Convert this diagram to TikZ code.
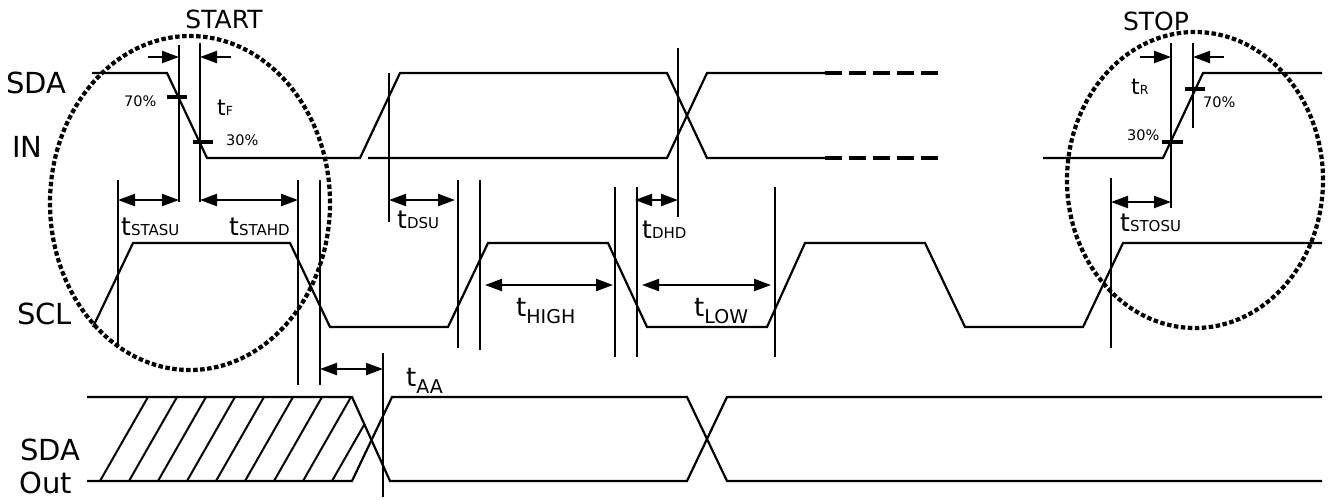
\documentclass[tikz,border=0pt]{standalone}
\usepackage{fontspec}
\setmainfont{DejaVu Sans}
\usetikzlibrary{arrows.meta}
\newcommand\mytsm[1]{{\fontsize{25}{25}\selectfont t}{\fontsize{15}{15}\selectfont #1}}
\newcommand\mytsmall[1]{{\fontsize{22}{22}\selectfont t}{\fontsize{12.5}{12.5}\selectfont #1}}
\newcommand\mytsub[1]{{\fontsize{26}{26}\selectfont t}\raisebox{-7pt}{\fontsize{19}{19}\selectfont #1}}
\tikzset{
  wave/.style={line width=2.2pt},
  vline/.style={line width=2.2pt},
  tick/.style={line width=3.2pt},
  hatch/.style={line width=2pt},
  dashwave/.style={line width=4.2pt, dash pattern=on 16.5pt off 7.5pt},
  circ/.style={line width=4.2pt, dash pattern=on 4.5pt off 2.5pt},
  dim/.style={line width=2.2pt, {Triangle[length=17pt,width=12pt]}-{Triangle[length=17pt,width=12pt]}},
  rdim/.style={line width=2.2pt, -{Triangle[length=17pt,width=12pt]}},
  lbl/.style={inner sep=0, anchor=base west, font=\fontsize{29}{29}\selectfont},
  pct/.style={inner sep=0, anchor=base west, font=\fontsize{14.5}{14.5}\selectfont},
  tl/.style={inner sep=0, anchor=base west},
  ttl/.style={inner sep=0, anchor=base, font=\fontsize{25}{25}\selectfont}
}
\begin{document}
\begin{tikzpicture}[x=1pt, y=-1pt]
\useasboundingbox (0,0) rectangle (1330,499);

% ---- labels
\node[lbl] (sda) at (6,93) {SDA};
\node[lbl] (in) at (12,157) {IN};
\node[lbl] (scl) at (17,324) {SCL};
\node[lbl] (sdao) at (20,460) {SDA};
\node[lbl] (out) at (19,493) {Out};
\node[ttl] (start) at (224,28) {START};
\node[ttl] (stop) at (1156,30) {STOP};

% ---- SDA in
\draw[wave] (92,73) -- (167,73) -- (207,158) -- (360,158) -- (400,73) -- (667,73) -- (707,158) -- (825,158);
\draw[wave] (368,158) -- (667,158) -- (707,73) -- (825,73);
\draw[dashwave] (825,73) -- (938,73);
\draw[dashwave] (825,158) -- (938,158);
\draw[wave] (1043,158) -- (1163,158) -- (1203,73) -- (1322,73);

% ---- SCL
\draw[wave] (93,327) -- (133,243) -- (290,243) -- (330,327) -- (448,327) -- (488,243) -- (608,243) -- (647,327) -- (767,327) -- (805,243) -- (925,243) -- (965,327) -- (1083,327) -- (1123,243) -- (1322,243);

% ---- SDA out
\draw[wave] (87,397) -- (352,397) -- (390,481) -- (687,481) -- (727,397) -- (1322,397);
\draw[wave] (87,481) -- (352,481) -- (392,397) -- (687,397) -- (727,481) -- (1322,481);
\begin{scope}
  \clip (0,397) -- (352,397) -- (371.6,440.3) -- (352,481) -- (0,481) -- cycle;
  \foreach \i in {0,...,8} \draw[hatch] ({100+29*\i},481) -- ({148+29*\i},397);
\end{scope}

% ---- vertical reference lines
\draw[vline] (179,45) -- (179,202);
\draw[vline] (200,43) -- (200,202);
\draw[vline] (389,73) -- (389,222);
\draw[vline] (678,48) -- (678,217);
\draw[vline] (118,180) -- (118,347);
\draw[vline] (298,180) -- (298,385);
\draw[vline] (320,180) -- (320,385);
\draw[vline] (458,180) -- (458,348);
\draw[vline] (480,180) -- (480,350);
\draw[vline] (615,187) -- (615,357);
\draw[vline] (637,187) -- (637,357);
\draw[vline] (775,187) -- (775,357);
\draw[vline] (1171,43) -- (1171,208);
\draw[vline] (1193,43) -- (1193,128);
\draw[vline] (1111,178) -- (1111,348);
\draw[vline] (383,353) -- (383,497);

% ---- ticks
\draw[tick] (167,97) -- (187,97);
\draw[tick] (193,142) -- (213,142);
\draw[tick] (1185,89) -- (1205,89);
\draw[tick] (1162,142) -- (1183,142);
\node[pct] (p70a) at (124,106) {70\%};
\node[pct] (p30a) at (226,145) {30\%};
\node[pct] (p70b) at (1203,107) {70\%};
\node[pct] (p30b) at (1127,140) {30\%};

% ---- dimension arrows
\coordinate (fa) at (148,57); \coordinate (fb) at (179,57);
\coordinate (fc) at (231,57); \coordinate (fd) at (200,57);
\draw[rdim] (fa) -- (fb);
\draw[rdim] (fc) -- (fd);
\coordinate (ra) at (1140,57); \coordinate (rb) at (1171,57);
\coordinate (rc) at (1224,57); \coordinate (rd) at (1193,57);
\draw[rdim] (ra) -- (rb);
\draw[rdim] (rc) -- (rd);
\coordinate (su1) at (118,200); \coordinate (su2) at (179,200);
\draw[dim] (su1) -- (su2);
\coordinate (hd1) at (200,200); \coordinate (hd2) at (298,200);
\draw[dim] (hd1) -- (hd2);
\coordinate (ds1) at (389,200); \coordinate (ds2) at (455,200);
\draw[dim] (ds1) -- (ds2);
\coordinate (dh1) at (635,200); \coordinate (dh2) at (678,200);
\draw[dim] (dh1) -- (dh2);
\coordinate (hi1) at (485,285); \coordinate (hi2) at (613,285);
\draw[dim] (hi1) -- (hi2);
\coordinate (lo1) at (642,285); \coordinate (lo2) at (771,285);
\draw[dim] (lo1) -- (lo2);
\coordinate (aa1) at (320,369); \coordinate (aa2) at (383,369);
\draw[dim] (aa1) -- (aa2);
\coordinate (so1) at (1111,202); \coordinate (so2) at (1171,202);
\draw[dim] (so1) -- (so2);

% ---- timing labels
\node[tl] (tf) at (217,115) {\mytsmall{F}};
\node[tl] (tr) at (1131,94) {\mytsmall{R}};
\node[tl] (tstasu) at (121,235) {\mytsm{STASU}};
\node[tl] (tstahd) at (229,235) {\mytsm{STAHD}};
\node[tl] (tdsu) at (397,228) {\mytsm{DSU}};
\node[tl] (tdhd) at (642,238) {\mytsm{DHD}};
\node[tl] (tstosu) at (1120,231) {\mytsm{STOSU}};
\node[tl] (thigh) at (516,316) {\mytsub{HIGH}};
\node[tl] (tlow) at (694,316) {\mytsub{LOW}};
\node[tl] (taa) at (406,386) {\mytsub{AA}};

% ---- dotted ellipses
\draw[circ] (190,203) ellipse [x radius=140pt, y radius=167pt];
\draw[circ] (1195,180) ellipse [x radius=128pt, y radius=148pt];
\end{tikzpicture}
\end{document}
